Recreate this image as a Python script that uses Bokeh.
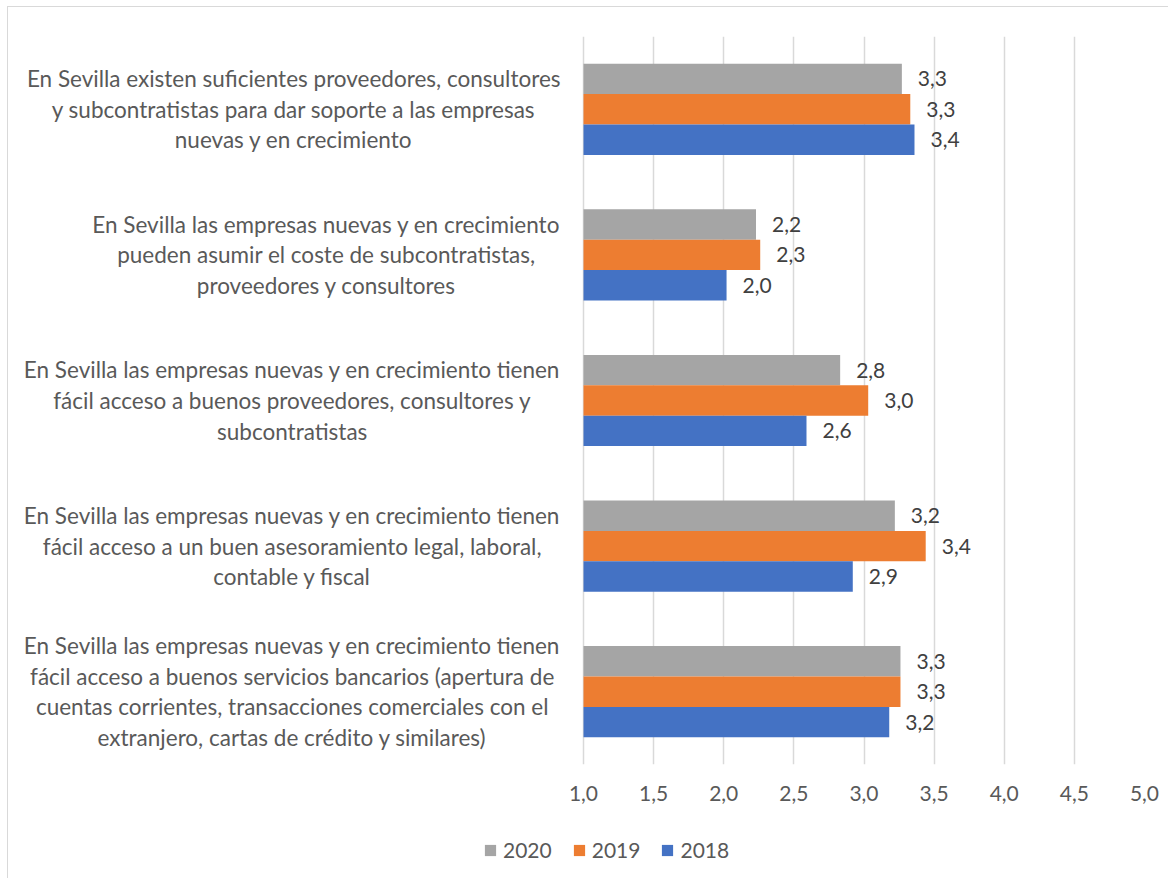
from bokeh.plotting import figure
from bokeh.layouts import column
from bokeh.models import (Range1d, FactorRange, ColumnDataSource, Legend, LegendItem,
                          FixedTicker, CustomJSTickFormatter)
from bokeh.transform import dodge
from bokeh.core.properties import value
from bokeh.embed import file_html
from bokeh.resources import INLINE

# ---------------- data ----------------
categories = [
    "En Sevilla existen suficientes proveedores, consultores\ny subcontratistas para dar soporte a las empresas\nnuevas y en crecimiento",
    "En Sevilla las empresas nuevas y en crecimiento\npueden asumir el coste de subcontratistas,\nproveedores y consultores",
    "En Sevilla las empresas nuevas y en crecimiento tienen\nfácil acceso a buenos proveedores, consultores y\nsubcontratistas",
    "En Sevilla las empresas nuevas y en crecimiento tienen\nfácil acceso a un buen asesoramiento legal, laboral,\ncontable y fiscal",
    "En Sevilla las empresas nuevas y en crecimiento tienen\nfácil acceso a buenos servicios bancarios (apertura de\ncuentas corrientes, transacciones comerciales con el\nextranjero, cartas de crédito y similares)",
]
years = ["2020", "2019", "2018"]
values_2020 = [3.27, 2.23, 2.83, 3.22, 3.26]
values_2019 = [3.33, 2.26, 3.03, 3.44, 3.26]
values_2018 = [3.36, 2.02, 2.59, 2.92, 3.18]
x_ticks = [1.0, 1.5, 2.0, 2.5, 3.0, 3.5, 4.0, 4.5, 5.0]

# ---------------- style / layout ----------------
colors = {"2020": "#A5A5A5", "2019": "#ED7D31", "2018": "#4472C4"}
AXIS_MIN, AXIS_MAX = 1.0, 5.0
W = 1160
H_MAIN, H_LEG = 809, 62
LABEL_AREA_PX = 575      # canvas px left of the value-axis origin
AXIS_PX = 561            # px from 1.0 to 5.0
BAR_H = 0.2088
FONT = "Lato"
TXT = "#595959"

units_per_px = (AXIS_MAX - AXIS_MIN) / AXIS_PX
x_start = AXIS_MIN - LABEL_AREA_PX * units_per_px

def fmt(v):
    return f"{v:.1f}".replace(".", ",")

src = ColumnDataSource(dict(
    cat=categories,
    v2020=values_2020, v2019=values_2019, v2018=values_2018,
    l2020=[fmt(v) for v in values_2020],
    l2019=[fmt(v) for v in values_2019],
    l2018=[fmt(v) for v in values_2018],
))

p = figure(width=W, height=H_MAIN, output_backend="svg", toolbar_location=None,
           x_range=Range1d(x_start, AXIS_MAX),
           y_range=FactorRange(factors=categories[::-1], range_padding=0, factor_padding=0),
           y_axis_location=None,
           min_border_left=0, min_border_right=W - LABEL_AREA_PX - AXIS_PX,
           min_border_top=29, min_border_bottom=52)
p.outline_line_color = None
p.background_fill_color = "white"
p.border_fill_color = "white"

p.xgrid.ticker = FixedTicker(ticks=x_ticks)
p.xgrid.grid_line_color = "#d9d9d9"
p.xgrid.grid_line_width = 1.5
p.ygrid.visible = False

ax = p.xaxis[0]
ax.ticker = FixedTicker(ticks=x_ticks)
ax.formatter = CustomJSTickFormatter(code="return tick.toFixed(1).replace('.', ',');")
ax.axis_line_color = None
ax.major_tick_line_color = None
ax.major_tick_out = 0
ax.major_tick_in = 0
ax.minor_tick_line_color = None
ax.major_label_text_font = FONT
ax.major_label_text_font_size = "21px"
ax.major_label_text_color = TXT
ax.major_label_standoff = 21

offsets = {"2020": BAR_H, "2019": 0.0, "2018": -BAR_H}
for yr in years:
    ydod = dodge("cat", offsets[yr], range=p.y_range)
    p.hbar(y=ydod, left=AXIS_MIN, right="v" + yr, height=BAR_H,
           source=src, fill_color=colors[yr], line_color=None)
    p.text(x="v" + yr, y=ydod, text="l" + yr, source=src, x_offset=16,
           text_align="left", text_baseline="middle",
           text_font=value(FONT), text_font_size="21px", text_color="#404040")

# category labels (centred lines, right-aligned block)
p.text(x=AXIS_MIN, y="cat", text="cat", source=src, x_offset=-23,
       anchor="center_right", text_align="center", text_baseline="middle",
       text_line_height=1.13,
       text_font=value(FONT), text_font_size="22.5px", text_color=TXT)

# ---------------- legend strip ----------------
pl = figure(width=W, height=H_LEG, output_backend="svg", toolbar_location=None,
            x_range=Range1d(0, 1), y_range=Range1d(0, 1),
            x_axis_location=None, y_axis_location=None,
            min_border=0, min_border_left=0, min_border_right=0,
            min_border_top=0, min_border_bottom=0)
pl.outline_line_color = None
pl.xgrid.visible = False
pl.ygrid.visible = False
# legend proxies: one bar per series, placed outside the visible range of this strip
proxy = ColumnDataSource(dict(y=[-10.0], left=[0.0], right=[0.0]))
leg_items = []
for yr in years:
    r = pl.hbar(y="y", left="left", right="right", height=1, source=proxy,
                fill_color=colors[yr], line_color=None)
    leg_items.append(LegendItem(label=yr, renderers=[r], index=0))
legend = Legend(items=leg_items, orientation="horizontal", location=(475, 16),
                glyph_width=14, glyph_height=14, label_standoff=6, spacing=20,
                padding=0, margin=0, border_line_color=None, background_fill_alpha=0,
                label_text_font=FONT, label_text_font_size="21px", label_text_color=TXT)
pl.add_layout(legend)

layout = column(p, pl, spacing=0)
layout.styles = {"border-left": "1px solid #d9d9d9", "border-top": "1px solid #d9d9d9",
                 "margin-left": "7px", "margin-top": "6px"}

open("out.html", "w").write(file_html(layout, INLINE))
